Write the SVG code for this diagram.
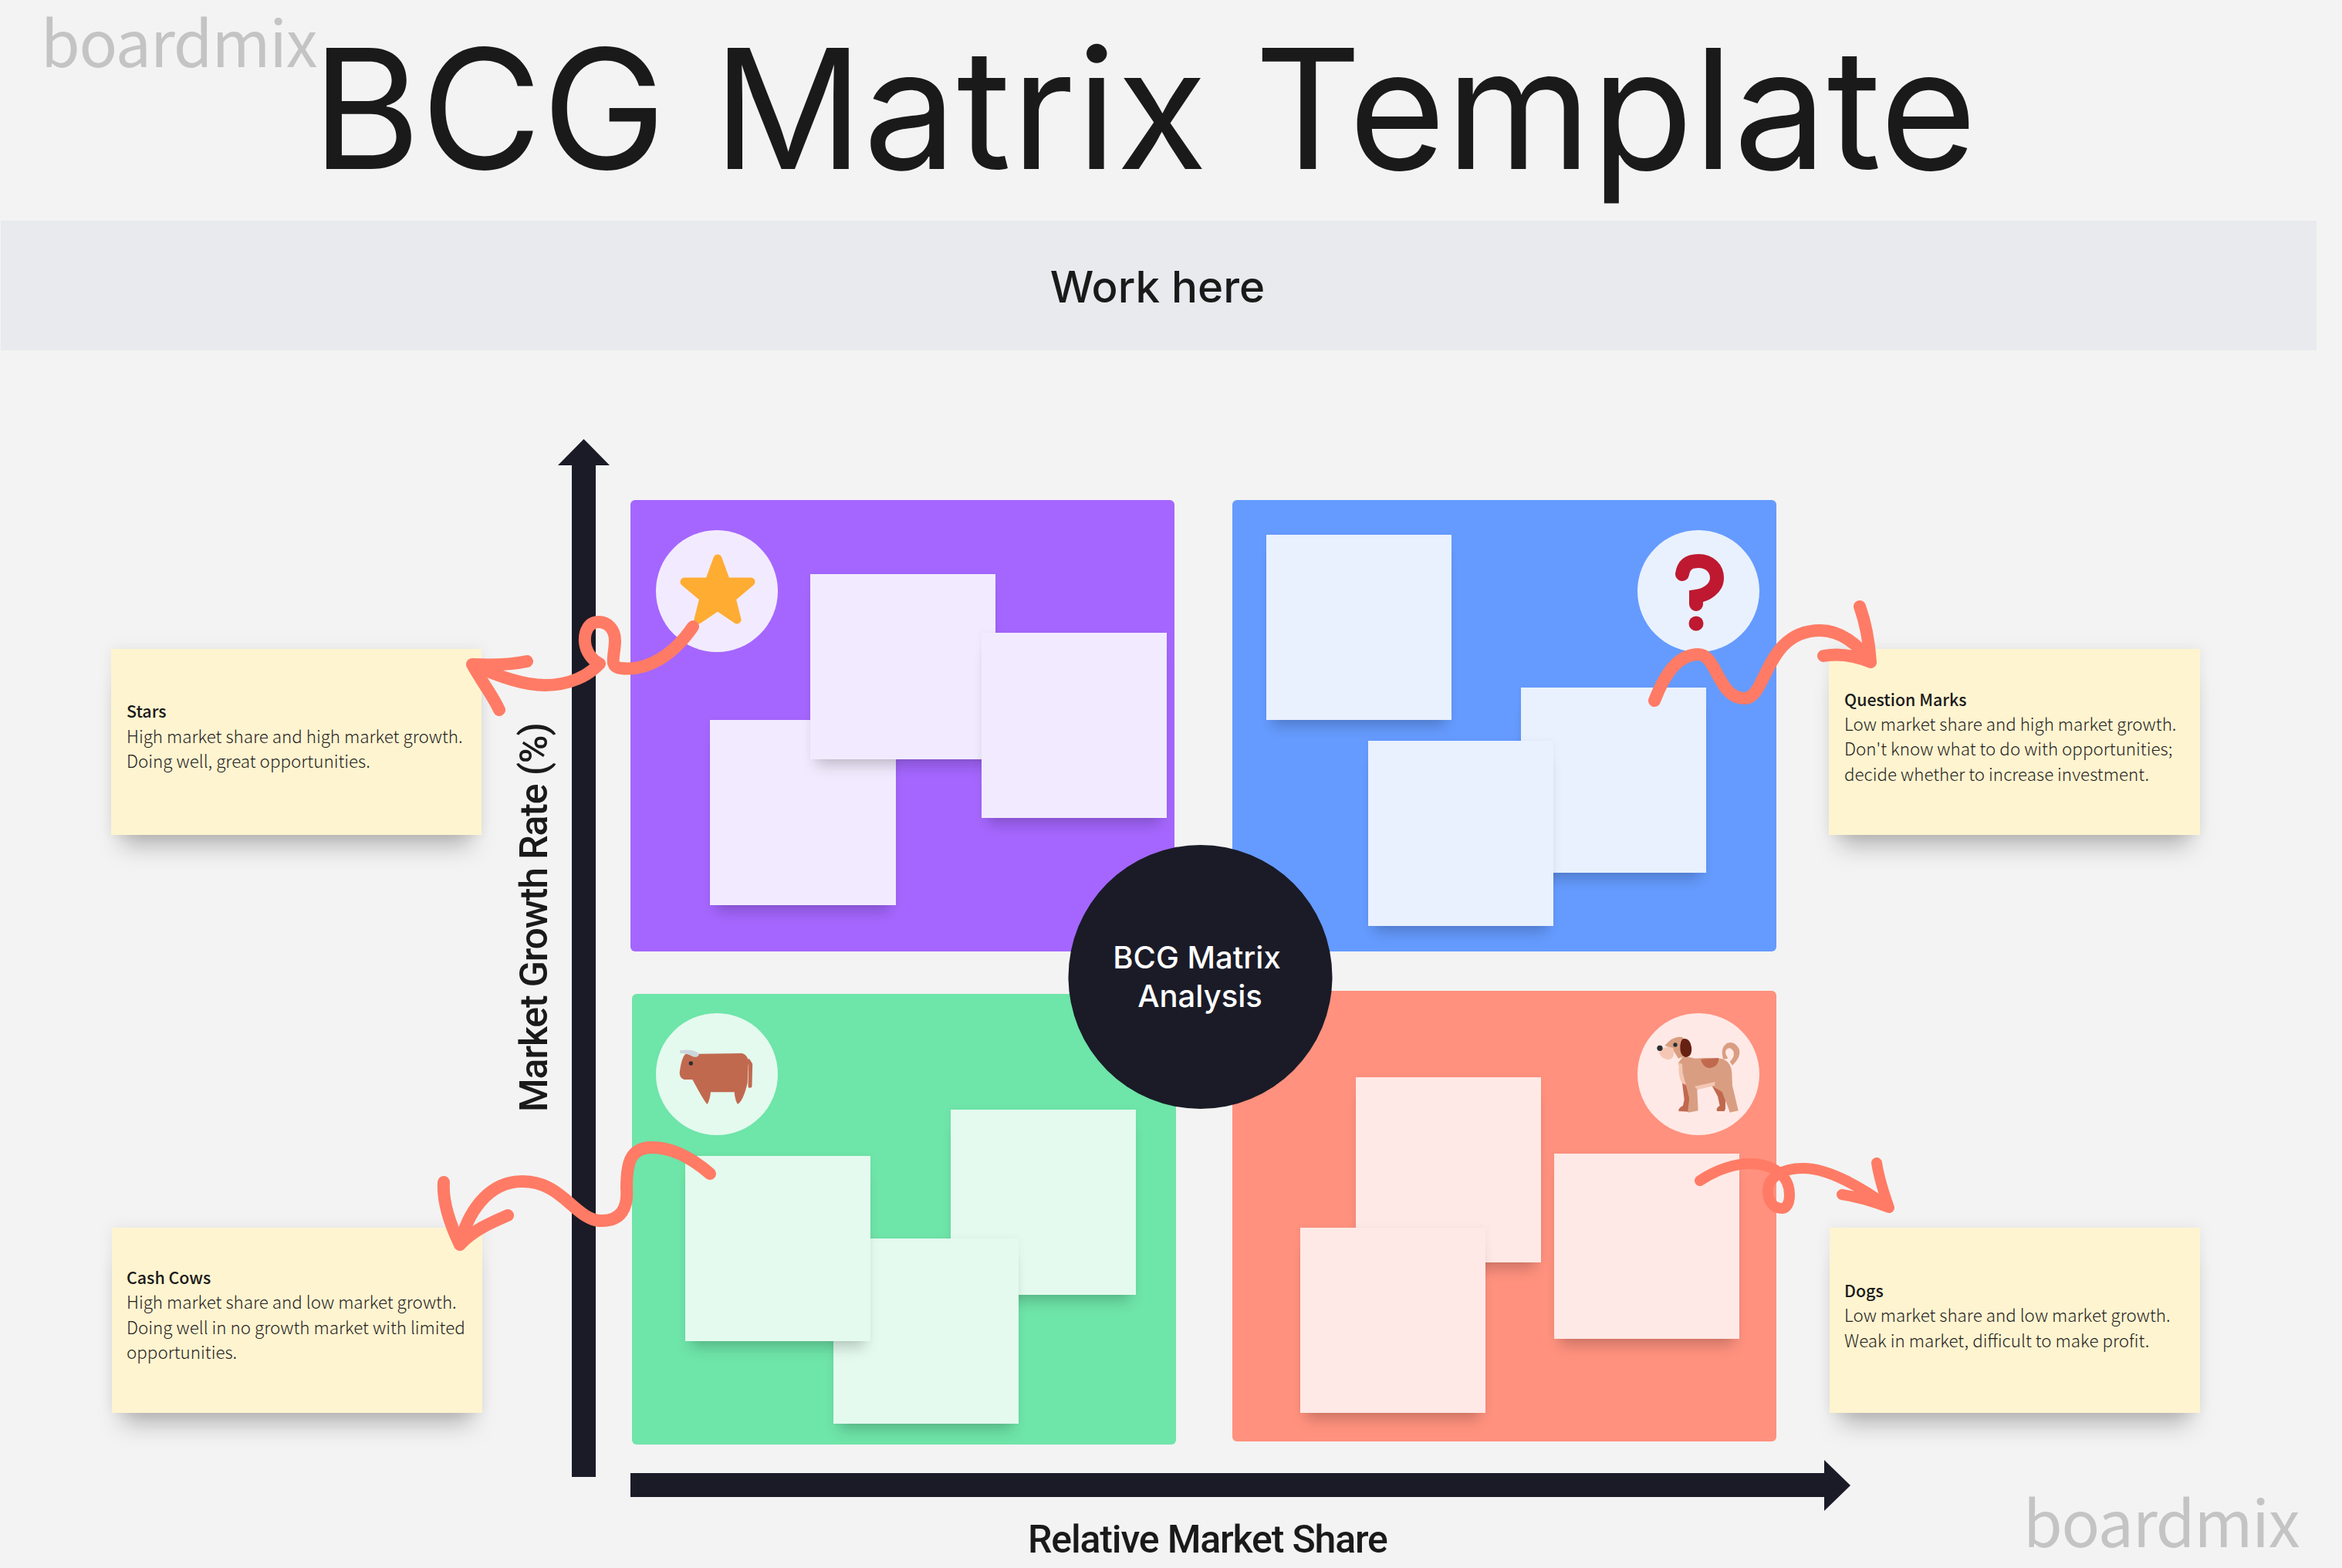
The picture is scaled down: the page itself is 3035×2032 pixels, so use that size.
<svg xmlns="http://www.w3.org/2000/svg" width="3035" height="2032" viewBox="0 0 3035 2032">
<defs>
<style>
.ui{font-family:"Inter","Liberation Sans",sans-serif;fill:#1a1a1a}
.ax{font-family:"Roboto","Liberation Sans",sans-serif;fill:#1a1a1a;font-size:50px;font-weight:500;letter-spacing:-1.15px}
.wm{font-family:"Noto Sans CJK SC","Noto Sans",sans-serif;font-weight:400;font-size:82px;letter-spacing:-1.1px;fill:#c4c4c4}
.note{fill:#fff4d0;filter:url(#sh)}
.nt{font-family:"Noto Sans CJK SC","Noto Sans",sans-serif;font-size:22.4px;fill:#1f1f1f;font-weight:300}
.nb{font-weight:500;font-size:21.4px;fill:#1a1a1a}
.sq{filter:url(#sh2)}
.ar{fill:none;stroke:#ff7b65;stroke-width:16;stroke-linecap:round;stroke-linejoin:round}
.dark{fill:#1a1b27}
</style>
<filter id="sh" x="-20%" y="-20%" width="140%" height="150%">
<feMorphology in="SourceAlpha" operator="erode" radius="14" result="e"/><feOffset in="e" dy="28" result="o"/><feGaussianBlur in="o" stdDeviation="15" result="b"/><feFlood flood-color="#000" flood-opacity=".26"/><feComposite in2="b" operator="in" result="s1"/>
<feGaussianBlur in="SourceAlpha" stdDeviation="9" result="b2"/><feFlood flood-color="#000" flood-opacity=".07"/><feComposite in2="b2" operator="in" result="s2"/>
<feMerge><feMergeNode in="s2"/><feMergeNode in="s1"/><feMergeNode in="SourceGraphic"/></feMerge></filter>
<filter id="sh2" x="-20%" y="-20%" width="140%" height="150%">
<feMorphology in="SourceAlpha" operator="erode" radius="8" result="e"/><feOffset in="e" dy="16" result="o"/><feGaussianBlur in="o" stdDeviation="9" result="b"/><feFlood flood-color="#000" flood-opacity=".2"/><feComposite in2="b" operator="in" result="s1"/>
<feGaussianBlur in="SourceAlpha" stdDeviation="5" result="b2"/><feFlood flood-color="#000" flood-opacity=".04"/><feComposite in2="b2" operator="in" result="s2"/>
<feMerge><feMergeNode in="s2"/><feMergeNode in="s1"/><feMergeNode in="SourceGraphic"/></feMerge></filter>
</defs>
<rect width="3035" height="2032" fill="#f3f3f3"/>
<g id="band"><rect x="1" y="286" width="3001" height="168" fill="#e9eaee"/><text class="ui" x="1500" y="392" font-size="56.5" font-weight="500" text-anchor="middle">Work here</text></g>
<text class="ui" id="title" x="404" y="219" font-size="215.6" font-weight="400">BCG Matrix Template</text>
<text class="wm" x="53" y="87">boardmix</text>
<text class="wm" x="2622" y="2005">boardmix</text>

<g id="quad-stars">
<rect x="817" y="648" width="705" height="585" rx="6" fill="#a566ff"/>
<circle cx="929" cy="766" r="79" fill="#f2ebff"/>
<path d="M930 724 L941 754 L973 754 L948 775 L955 803 L930 786 L905 803 L912 775 L887 754 L919 754Z" fill="#ffac33" stroke="#ffac33" stroke-width="11" stroke-linejoin="round"/>
<g fill="#f2ebff" class="sq"><rect x="920" y="933" width="241" height="240"/></g>
<g fill="#f2ebff" class="sq"><rect x="1050" y="744" width="240" height="240"/></g>
<g fill="#f2ebff" class="sq"><rect x="1272" y="820" width="240" height="240"/></g>
</g>
<g id="quad-question">
<rect x="1597" y="648" width="705" height="585" rx="6" fill="#659bff"/>
<circle cx="2201" cy="766" r="79" fill="#e9f1ff"/>
<path d="M2180 744 C2182 731 2190 727 2201 727 C2216 727 2225 737 2225 749 C2225 762 2212 771 2198 773 L2198 783" fill="none" stroke="#be1931" stroke-width="18" stroke-linecap="round"/>
<circle cx="2198" cy="808" r="9.5" fill="#be1931"/>
<g fill="#e9f1ff" class="sq"><rect x="1641" y="693" width="240" height="240"/></g>
<g fill="#e9f1ff" class="sq"><rect x="1971" y="891" width="240" height="240"/></g>
<g fill="#e9f1ff" class="sq"><rect x="1773" y="960" width="240" height="240"/></g>
</g>
<g id="quad-cash">
<rect x="819" y="1288" width="705" height="584" rx="6" fill="#6ee5a9"/>
<circle cx="929" cy="1392" r="79" fill="#e4faee"/>
<g transform="translate(820 1290) scale(.3333)">
<path d="M205 228 L425 225 Q445 230 450 255 L446 340 Q430 410 408 423 Q398 410 395 376 L303 376 Q300 405 290 423 Q282 420 232 327 L200 327 Q182 322 182 300 Q190 240 205 228Z" fill="#c1694f"/>
<path d="M450 255 L458 268 L456 352" fill="none" stroke="#c1694f" stroke-width="15" stroke-linecap="round" stroke-linejoin="round"/>
<path d="M186 216 Q235 210 255 228 Q250 240 235 235 Q210 222 186 222Z" fill="#ccd6dd" stroke="#ccd6dd" stroke-width="6" stroke-linejoin="round"/>
<circle cx="226" cy="264" r="8" fill="#292f33"/>
</g>
<g fill="#e4faee" class="sq"><rect x="1232" y="1438" width="240" height="240"/></g>
<g fill="#e4faee" class="sq"><rect x="1080" y="1605" width="240" height="240"/></g>
<g fill="#e4faee" class="sq"><rect x="888" y="1498" width="240" height="240"/></g>
</g>
<g id="quad-dogs">
<rect x="1597" y="1284" width="705" height="584" rx="6" fill="#ff917e"/>
<circle cx="2201" cy="1392" r="79" fill="#ffe9e6"/>
<g transform="translate(2100 1290) scale(.3333)">
<path d="M240 340 L262 350 L268 405 L276 432 L268 452 L226 450 Q224 438 243 428 L248 405Z" fill="#c1694f"/>
<path d="M355 350 L390 362 L408 400 L408 440 L404 450 L376 450 Q368 440 386 428 L378 392Z" fill="#c1694f"/>
<path d="M400 248 Q385 205 415 185 Q445 175 462 210 Q470 240 435 272 L425 258 Q448 235 438 215 Q425 198 412 210 Q402 220 418 245Z" fill="#d99e82"/>
<path d="M225 262 L245 235 L290 245 Q340 240 395 246 Q430 258 433 300 L435 350 L458 448 L425 455 L420 440 L395 375 L355 352 L298 365 L302 448 L265 455 L262 445 L268 400 L255 350 L240 340Z" fill="#d99e82"/>
<path d="M312 248 L382 243 Q382 278 345 283 Q320 280 312 248Z" fill="#c1694f"/>
<path d="M228 262 L240 268 L242 300 L254 348 L238 340 Q222 310 228 262Z" fill="#f4c7b5"/>
<path d="M288 354 L368 336 L366 350 L300 366Z" fill="#f4c7b5"/>
<path d="M172 195 Q205 155 240 162 Q262 180 262 230 L225 245 L200 205Z" fill="#d99e82"/>
<path d="M150 222 Q170 190 205 205 Q215 240 190 250 Q160 250 150 222Z" fill="#f4c7b5"/>
<path d="M240 170 Q268 160 276 200 Q280 238 252 240 Q230 235 232 195 Q234 178 240 170Z" fill="#662113"/>
<circle cx="153" cy="205" r="11" fill="#292f33"/>
<circle cx="213" cy="192" r="8" fill="#292f33"/>
</g>
<g fill="#ffe9e6" class="sq"><rect x="1757" y="1396" width="240" height="240"/></g>
<g fill="#ffe9e6" class="sq"><rect x="1685" y="1591" width="240" height="240"/></g>
<g fill="#ffe9e6" class="sq"><rect x="2014" y="1495" width="240" height="240"/></g>
</g>
<g id="center"><circle class="dark" cx="1555.5" cy="1266" r="171"/>
<text x="1551" y="1255" font-family="Inter,'Liberation Sans',sans-serif" font-size="40" font-weight="500" fill="#fff" text-anchor="middle">BCG Matrix</text>
<text x="1555" y="1305" font-family="Inter,'Liberation Sans',sans-serif" font-size="40" font-weight="500" fill="#fff" text-anchor="middle">Analysis</text></g>
<g id="axes">
<path class="dark" d="M741 1914V603H723L756.5 569L790 603H772V1914Z"/>
<path class="dark" d="M817 1909H2364V1892L2398 1925L2364 1958V1940H817Z"/>
<text class="ax" transform="translate(709 1441) rotate(-90)">Market Growth Rate (%)</text>
<text class="ax" x="1332" y="2012">Relative Market Share</text>
</g>
<g id="note-stars"><rect class="note" x="144" y="841" width="480" height="241"/>
<text class="nt nb" x="164" y="930">Stars</text><text class="nt" x="164" y="963">High market share and high market growth.</text><text class="nt" x="164" y="995">Doing well, great opportunities.</text></g>
<g id="note-question"><rect class="note" x="2370" y="841" width="481" height="241"/>
<text class="nt nb" x="2390" y="915">Question Marks</text><text class="nt" x="2390" y="947">Low market share and high market growth.</text><text class="nt" x="2390" y="979">Don't know what to do with opportunities;</text><text class="nt" x="2390" y="1012">decide whether to increase investment.</text></g>
<g id="note-cash"><rect class="note" x="145" y="1591" width="480" height="240"/>
<text class="nt nb" x="164" y="1664">Cash Cows</text><text class="nt" x="164" y="1696">High market share and low market growth.</text><text class="nt" x="164" y="1729">Doing well in no growth market with limited</text><text class="nt" x="164" y="1761">opportunities.</text></g>
<g id="note-dogs"><rect class="note" x="2371" y="1591" width="480" height="240"/>
<text class="nt nb" x="2390" y="1681">Dogs</text><text class="nt" x="2390" y="1713">Low market share and low market growth.</text><text class="nt" x="2390" y="1746">Weak in market, difficult to make profit.</text></g>
<g id="connectors">
<path class="ar" d="M898 812 C872 850 838 870 805 866 C788 864 797 850 797 830 C797 815 787 806 776 806 C763 806 757 818 758 832 C759 845 768 856 777 860 C762 876 738 888 706 888 C675 888 640 874 612 861 M683 857 C660 862 635 862 612 861 C625 885 638 900 647 920"/>
<path class="ar" d="M2144 908 C2158 872 2175 848 2201 848 C2225 848 2226 905 2261 905 C2290 905 2287 817 2359 817 C2385 817 2408 835 2424 858 C2422 830 2418 808 2410 786 M2363 850 C2385 846 2405 850 2424 858"/>
<path class="ar" d="M920 1521 C890 1495 865 1487 845 1487 C815 1487 812 1510 812 1540 C814 1565 805 1582 780 1582 C745 1582 730 1531 677 1531 C630 1531 605 1575 596 1613 C585 1590 573 1560 575 1532 M658 1575 C635 1585 612 1595 596 1613"/>
<path class="ar" style="stroke-width:14" d="M2203 1530 C2225 1515 2250 1508 2267 1508 C2300 1508 2319 1525 2319 1548 C2319 1560 2315 1566 2309 1566 C2298 1566 2291 1556 2291 1544 C2291 1525 2310 1514 2337 1514 C2370 1514 2415 1540 2448 1565 C2442 1548 2435 1528 2432 1507 M2387 1548 C2408 1551 2430 1558 2448 1565"/>
</g>
</svg>
